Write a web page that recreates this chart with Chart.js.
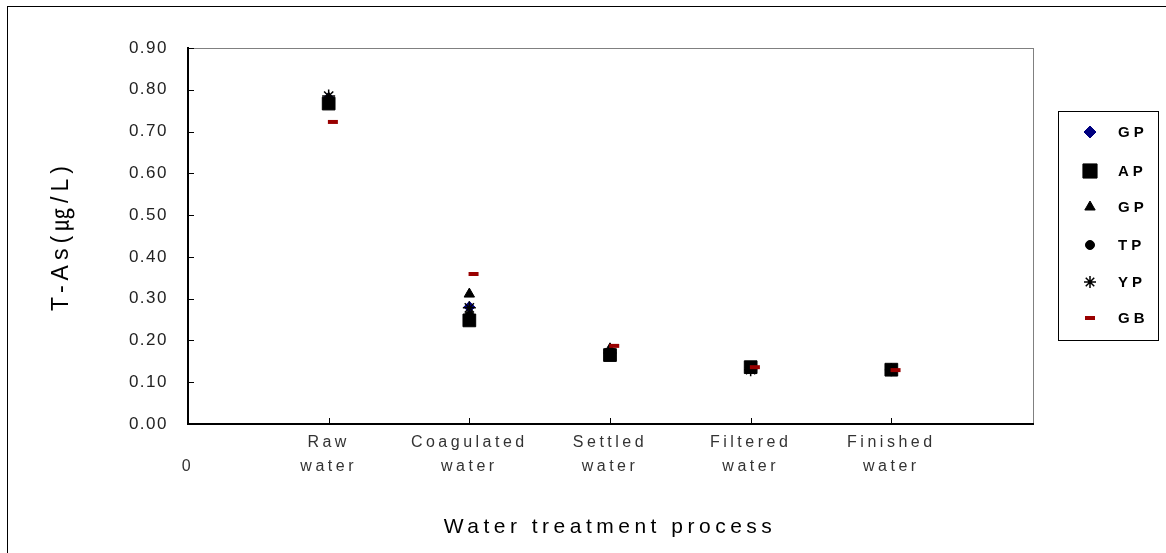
<!DOCTYPE html>
<html>
<head>
<meta charset="utf-8">
<script src="https://cdn.jsdelivr.net/npm/chart.js@4/dist/chart.umd.min.js"></script>
<style>
  body { margin: 0; background: #fff; }
  #wrap { width: 1166px; height: 553px; position: relative; }
</style>
</head>
<body>
<div id="wrap"><canvas id="asChart"></canvas></div>
<script>
// stages along the x axis (positions 1..5)
const stages = [["Raw", "water"], ["Coagulated", "water"], ["Settled", "water"], ["Filtered", "water"], ["Finished", "water"]];
const stageX = [1, 2, 3, 4, 5];
const yTicks = [0, 0.1, 0.2, 0.3, 0.4, 0.5, 0.6, 0.7, 0.8, 0.9];

// T-As (ug/L)
const gp1 = [0.78, 0.28, 0.17, 0.135, 0.132];
const ap = [0.767, 0.248, 0.165, 0.136, 0.13];
const gp2 = [0.78, 0.311, 0.18, 0.136, 0.13];
const tp = [0.77, 0.26, 0.165, 0.133, 0.13];
const yp = [0.785, 0.278, 0.17, 0.13, 0.13];
const gb = [0.723, 0.359, 0.187, 0.136, 0.129];
const gbShift = 0.03; // GB marks sit slightly right of the others

const series = [
  { label: "GP", values: gp1, style: "rectRot", radius: 5.5, color: "#000080", bw: 1 },
  { label: "AP", values: ap, style: "rect", radius: 9, color: "#000000", bw: 1 },
  { label: "GP", values: gp2, style: "triangle", radius: 6, color: "#000000", bw: 1 },
  { label: "TP", values: tp, style: "circle", radius: 4.5, color: "#000000", bw: 1 },
  { label: "YP", values: yp, style: "star", radius: 6.5, color: "#000000", bw: 1.5 },
  { label: "GB", values: gb, style: "line", radius: 5, color: "#990000", bw: 4, shift: gbShift }
];

const datasets = series.map(function (s, i) {
  return {
    label: s.label,
    data: s.values.map(function (v, j) { return { x: stageX[j] + (s.shift || 0), y: v }; }),
    pointStyle: s.style,
    pointRadius: s.radius,
    pointHoverRadius: s.radius,
    pointBackgroundColor: s.color,
    pointBorderColor: s.color,
    pointBorderWidth: s.bw,
    showLine: false,
    order: series.length - i
  };
});

const FONT = "'Liberation Sans', Arial, sans-serif";

const decor = {
  id: "decor",
  beforeDraw(chart) {
    chart.ctx.letterSpacing = "1.5px"; // y tick labels
  },
  afterDatasetsDraw(chart) {
    chart.ctx.letterSpacing = "3.5px"; // x tick labels (drawn after datasets, ticks.z = 1)
  },
  afterDraw(chart) {
    const ctx = chart.ctx;
    const a = chart.chartArea;
    const xs = chart.scales.x, ys = chart.scales.y;
    ctx.save();
    ctx.letterSpacing = "0px";
    // outer frame
    ctx.strokeStyle = "#000";
    ctx.lineWidth = 1;
    ctx.strokeRect(7.5, 6.5, 1170, 570);
    // plot border
    ctx.strokeStyle = "#808080";
    ctx.strokeRect(a.left + 0.5, a.top + 0.5, a.right - a.left + 1, a.bottom - a.top);
    // axes
    ctx.strokeStyle = "#000";
    ctx.lineWidth = 2;
    ctx.beginPath();
    ctx.moveTo(a.left, a.top - 1);
    ctx.lineTo(a.left, a.bottom);
    ctx.lineTo(a.right + 2, a.bottom);
    ctx.stroke();
    // inward tick marks
    ctx.lineWidth = 1;
    ctx.beginPath();
    yTicks.forEach(function (t) {
      const y = Math.round(ys.getPixelForValue(t)) + 0.5;
      ctx.moveTo(a.left, y);
      ctx.lineTo(a.left + 6, y);
    });
    stageX.forEach(function (t) {
      const x = Math.round(xs.getPixelForValue(t)) + 0.5;
      ctx.moveTo(x, a.bottom);
      ctx.lineTo(x, a.bottom - 6);
    });
    ctx.stroke();

    // axis titles
    ctx.fillStyle = "#000";
    ctx.textAlign = "center";
    ctx.textBaseline = "middle";
    ctx.letterSpacing = "4.5px";
    ctx.font = "21px " + FONT;
    ctx.fillText("Water treatment process", (a.left + a.right) / 2, 527);
    ctx.save();
    ctx.translate(62, (a.top + a.bottom) / 2);
    ctx.rotate(-Math.PI / 2);
    ctx.letterSpacing = "5px";
    ctx.font = "23px " + FONT + ", 'Noto Sans CJK KR'";
    ctx.fillText("T-As(\u338D/L)", 0, 0);
    ctx.restore();

    // legend
    const lx = 1058, ly = 111, lw = 100, lh = 229;
    ctx.strokeStyle = "#000";
    ctx.lineWidth = 1;
    ctx.strokeRect(lx + 0.5, ly + 0.5, lw, lh);
    const rowY = [132, 171, 207, 245, 282, 318];
    const legR = { rectRot: 6, rect: 10, triangle: 6, circle: 4.5, star: 6, line: 5 };
    ctx.textAlign = "left";
    ctx.letterSpacing = "4px";
    ctx.font = "bold 15px " + FONT;
    series.forEach(function (s, i) {
      ctx.fillStyle = s.color;
      ctx.strokeStyle = s.color;
      ctx.lineWidth = s.bw;
      Chart.helpers.drawPoint(ctx, { pointStyle: s.style, radius: legR[s.style], borderWidth: s.bw, rotation: 0 }, 1090, rowY[i]);
      ctx.fillStyle = "#000";
      ctx.fillText(s.label, 1118, rowY[i] + 1);
    });
    ctx.restore();
  }
};

new Chart(document.getElementById("asChart").getContext("2d"), {
  type: "scatter",
  data: { datasets: datasets },
  options: {
    responsive: true,
    maintainAspectRatio: false,
    animation: false,
    layout: { padding: { left: 0, top: 48, right: 134, bottom: 0 } },
    plugins: { legend: { display: false }, tooltip: { enabled: false } },
    scales: {
      x: {
        type: "linear",
        min: 0,
        max: 6,
        afterFit(scale) { scale.height = 129; },
        afterBuildTicks(scale) { scale.ticks = [0, 1, 2, 3, 4, 5].map(function (v) { return { value: v }; }); },
        grid: { display: false, drawTicks: false },
        border: { display: false },
        ticks: {
          z: 1,
          autoSkip: false,
          maxRotation: 0,
          padding: 7,
          color: "#333",
          font: { family: FONT, size: 16, lineHeight: 1.5 },
          callback: function (v) { return v === 0 ? ["", "0"] : stages[v - 1]; }
        }
      },
      y: {
        min: 0,
        max: 0.9,
        afterFit(scale) { scale.width = 188; },
        afterBuildTicks(scale) { scale.ticks = yTicks.map(function (v) { return { value: v }; }); },
        grid: { display: false, drawTicks: false },
        border: { display: false },
        ticks: {
          padding: 20,
          color: "#222",
          font: { family: FONT, size: 17 },
          callback: function (v) { return v.toFixed(2); }
        }
      }
    }
  },
  plugins: [decor]
});
</script>
</body>
</html>
